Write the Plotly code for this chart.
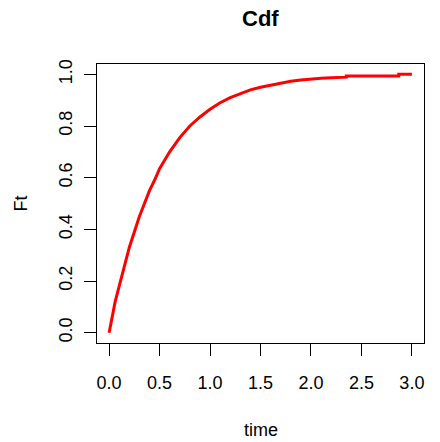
import plotly.graph_objects as go

time_vals = [0.0, 0.03, 0.06, 0.10, 0.15, 0.20, 0.25, 0.30, 0.35, 0.40, 0.45, 0.50,
             0.60, 0.70, 0.80, 0.90, 1.00, 1.10, 1.20, 1.30, 1.40, 1.50, 1.60,
             1.70, 1.80, 1.90, 2.00, 2.10, 2.20, 2.30, 2.35, 2.35, 2.87, 2.87, 3.00]
ft_vals = [0.0, 0.06, 0.12, 0.18, 0.26, 0.33, 0.39, 0.45, 0.50, 0.55, 0.59, 0.635,
           0.70, 0.755, 0.80, 0.835, 0.865, 0.89, 0.91, 0.925, 0.94, 0.95, 0.958,
           0.966, 0.973, 0.978, 0.982, 0.985, 0.987, 0.989, 0.989, 0.994, 0.994, 1.0, 1.0]

x_ticks = [0, 0.5, 1, 1.5, 2, 2.5, 3]
x_labels = ["0.0", "0.5", "1.0", "1.5", "2.0", "2.5", "3.0"]
y_ticks = [0, 0.2, 0.4, 0.6, 0.8, 1.0]
y_labels = ["0.0", "0.2", "0.4", "0.6", "0.8", "1.0"]

font = "Liberation Sans, Arial, sans-serif"

fig = go.Figure()
fig.add_trace(go.Scatter(x=time_vals, y=ft_vals, mode="lines",
                         line=dict(color="#ff0000", width=3), showlegend=False))

fig.update_layout(
    width=440, height=442,
    margin=dict(l=97, r=16, t=64, b=99),
    paper_bgcolor="white", plot_bgcolor="white",
    font=dict(family=font, size=18, color="black"),
    xaxis=dict(range=[-0.12, 3.12], tickvals=x_ticks, ticktext=x_labels,
               showgrid=False, zeroline=False, showline=True, mirror=True,
               linecolor="black", linewidth=1, ticks="outside", ticklen=12,
               tickcolor="black", tickfont=dict(size=18), ticklabelstandoff=11),
    yaxis=dict(range=[-0.04, 1.04], tickvals=y_ticks, ticktext=y_labels,
               showgrid=False, zeroline=False, showline=True, mirror=True,
               linecolor="black", linewidth=1, ticks="outside", ticklen=12,
               tickcolor="black", tickangle=-90, tickfont=dict(size=18),
               ticklabelstandoff=5),
    annotations=[
        dict(text="<b>Cdf</b>", x=0.5, y=1, xref="paper", yref="paper",
             yanchor="middle", yshift=64 - 18,
             showarrow=False, font=dict(size=22)),
        dict(text="time", x=0.5, y=0, xref="paper", yref="paper",
             yanchor="middle", yshift=-(430 - 342.7),
             showarrow=False, font=dict(size=18)),
        dict(text="Ft", x=0, y=0.5, xref="paper", yref="paper",
             xanchor="center", xshift=-(97 - 20),
             showarrow=False, textangle=-90, font=dict(size=18)),
    ],
)

fig.write_html("out.html")
